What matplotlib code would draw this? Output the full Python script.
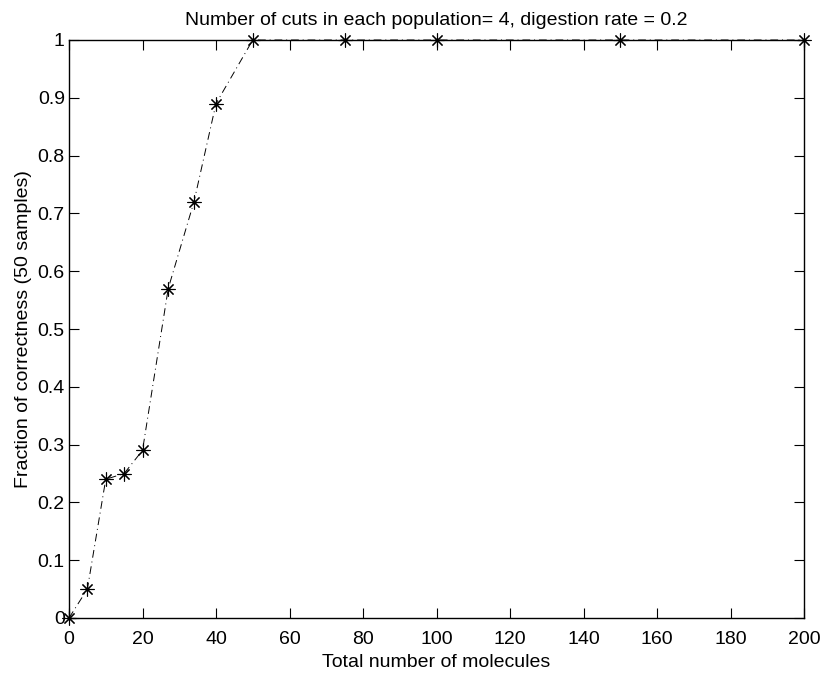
import matplotlib
matplotlib.use("Agg")
import matplotlib.pyplot as plt

plt.rcParams['font.family'] = ['Liberation Sans', 'DejaVu Sans']

molecules = [0, 5, 10, 15, 20, 27, 34, 40, 50, 75, 100, 150, 200]
correctness = [0, 0.05, 0.24, 0.25, 0.29, 0.57, 0.72, 0.89, 1, 1, 1, 1, 1]
xticks = [0, 20, 40, 60, 80, 100, 120, 140, 160, 180, 200]
yticks = [0, 0.1, 0.2, 0.3, 0.4, 0.5, 0.6, 0.7, 0.8, 0.9, 1]
ytick_labels = ['0', '0.1', '0.2', '0.3', '0.4', '0.5', '0.6', '0.7', '0.8', '0.9', '1']

fig = plt.figure(figsize=(8.22, 6.73), dpi=100)
ax = fig.add_axes([69/822, 1-618/673, (804-69)/822, (618-40)/673])

ax.plot(molecules, correctness, linestyle='-.', color='black', linewidth=0.7,
        marker=(8, 2, 0), markersize=10, markeredgewidth=0.8,
        markeredgecolor='black', dashes=(8, 4, 1, 4), clip_on=False, zorder=5)

ax.set_xlim(0, 200)
ax.set_ylim(0, 1)
ax.set_xticks(xticks)
ax.set_xticklabels([str(t) for t in xticks])
ax.set_yticks(yticks)
ax.set_yticklabels(ytick_labels)
ax.tick_params(direction='in', top=True, right=True, length=7, width=0.8,
               labelsize=14, pad=3)
ax.tick_params(axis='x', pad=9)
for s in ax.spines.values():
    s.set_linewidth(1.0)

ax.set_xlabel('Total number of molecules', fontsize=14, labelpad=5)
ax.set_ylabel('Fraction of correctness (50 samples)', fontsize=14, labelpad=4)
ax.set_title('Number of cuts in each population= 4, digestion rate = 0.2',
             fontsize=14, pad=11)

fig.savefig('out.png', dpi=100)
